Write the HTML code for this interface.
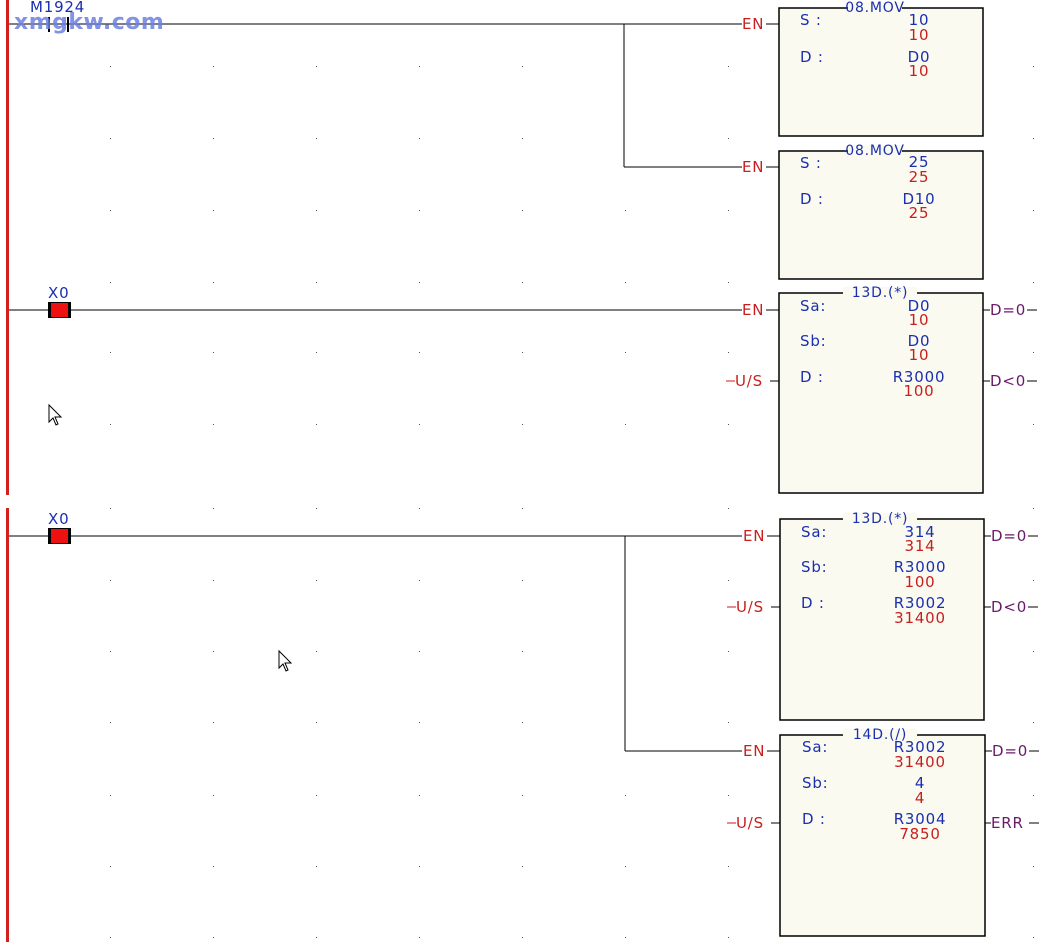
<!DOCTYPE html>
<html><head><style>
body{margin:0;background:#fff;}
svg text{font-family:"DejaVu Sans","Liberation Sans",sans-serif;font-size:15px;letter-spacing:0.8px;}
.b{fill:#1a2fb0}.r{fill:#c81e1e}.p{fill:#6a1a6a}
</style></head><body>
<svg width="1046" height="942" xmlns="http://www.w3.org/2000/svg">
<rect width="1046" height="942" fill="#fff"/>
<rect x="6" y="0" width="3" height="495" fill="#d02020"/>
<rect x="6" y="508" width="3" height="434" fill="#d02020"/>
<line x1="9" y1="24" x2="742" y2="24" stroke="#000"/>
<line x1="624" y1="24" x2="624" y2="167" stroke="#000"/>
<line x1="624" y1="167" x2="742" y2="167" stroke="#000"/>
<rect x="48" y="17" width="2" height="15" fill="#000"/><rect x="67" y="17" width="2" height="15" fill="#000"/>
<text x="30" y="12" class="b">M1924</text>
<text x="14" y="29" style="font-size:22px;font-weight:bold;fill:#6d7fe0;opacity:0.85;letter-spacing:0.5px">xmgkw.com</text>
<line x1="9" y1="310" x2="742" y2="310" stroke="#000"/>
<rect x="48" y="302" width="23" height="16" fill="#000"/><rect x="51" y="303" width="17" height="14" fill="#ee1111"/>
<text x="48" y="298" class="b">X0</text>
<line x1="9" y1="536" x2="742" y2="536" stroke="#000"/>
<line x1="625" y1="536" x2="625" y2="751" stroke="#000"/>
<line x1="625" y1="751" x2="742" y2="751" stroke="#000"/>
<rect x="48" y="528" width="23" height="16" fill="#000"/><rect x="51" y="529" width="17" height="14" fill="#ee1111"/>
<text x="48" y="524" class="b">X0</text>
<path d="M49 405 L49 422 L53 418 L56 425 L58 424 L55 417 L61 417 Z" fill="#fff" stroke="#000"/>
<path d="M279 651 L279 668 L283 664 L286 671 L288 670 L285 663 L291 663 Z" fill="#fff" stroke="#000"/>
<g stroke="#000" stroke-width="1.5" fill="#fbfaf0">
<rect x="779" y="8" width="204" height="128"/>
<rect x="779" y="151" width="204" height="128"/>
<rect x="779" y="293" width="204" height="200"/>
<rect x="780" y="519" width="204" height="201"/>
<rect x="780" y="735" width="205" height="201"/>
</g>
<g text-anchor="middle">
<rect x="848" y="2" width="54" height="10" fill="#fbfaf0"/><text x="875" y="12" class="b" style="font-size:14px">08.MOV</text>
<rect x="848" y="145" width="54" height="10" fill="#fbfaf0"/><text x="875" y="155" class="b" style="font-size:14px">08.MOV</text>
<rect x="843" y="287" width="74" height="10" fill="#fbfaf0"/><text x="880" y="297" class="b" style="font-size:14px">13D.(*)</text>
<rect x="843" y="513" width="74" height="10" fill="#fbfaf0"/><text x="880" y="523" class="b" style="font-size:14px">13D.(*)</text>
<rect x="843" y="729" width="74" height="10" fill="#fbfaf0"/><text x="880" y="739" class="b" style="font-size:14px">14D.(/)</text>
</g>
<g class="b">
<text x="800" y="25">S :</text><text x="800" y="62">D :</text>
<text x="800" y="168">S :</text><text x="800" y="204">D :</text>
<text x="800" y="311">Sa:</text><text x="800" y="346">Sb:</text><text x="800" y="382">D :</text>
<text x="801" y="537">Sa:</text><text x="801" y="572">Sb:</text><text x="801" y="608">D :</text>
<text x="802" y="752">Sa:</text><text x="802" y="788">Sb:</text><text x="802" y="824">D :</text>
</g>
<g text-anchor="middle">
<text x="919" y="25" class="b">10</text><text x="919" y="40" class="r">10</text>
<text x="919" y="62" class="b">D0</text><text x="919" y="76" class="r">10</text>
<text x="919" y="167" class="b">25</text><text x="919" y="182" class="r">25</text>
<text x="919" y="204" class="b">D10</text><text x="919" y="218" class="r">25</text>
<text x="919" y="311" class="b">D0</text><text x="919" y="325" class="r">10</text>
<text x="919" y="346" class="b">D0</text><text x="919" y="360" class="r">10</text>
<text x="919" y="382" class="b">R3000</text><text x="919" y="396" class="r">100</text>
<text x="920" y="537" class="b">314</text><text x="920" y="551" class="r">314</text>
<text x="920" y="572" class="b">R3000</text><text x="920" y="587" class="r">100</text>
<text x="920" y="608" class="b">R3002</text><text x="920" y="623" class="r">31400</text>
<text x="920" y="752" class="b">R3002</text><text x="920" y="767" class="r">31400</text>
<text x="920" y="788" class="b">4</text><text x="920" y="803" class="r">4</text>
<text x="920" y="824" class="b">R3004</text><text x="920" y="839" class="r">7850</text>
</g>
<g class="r">
<text x="742" y="29">EN</text><line x1="766" y1="24" x2="779" y2="24" stroke="#000"/>
<text x="742" y="172">EN</text><line x1="766" y1="167" x2="779" y2="167" stroke="#000"/>
<text x="742" y="315">EN</text><line x1="766" y1="310" x2="779" y2="310" stroke="#000"/>
<text x="743" y="541">EN</text><line x1="767" y1="536" x2="780" y2="536" stroke="#000"/>
<text x="743" y="756">EN</text><line x1="767" y1="751" x2="780" y2="751" stroke="#000"/>
<text x="735" y="386">U/S</text><line x1="726" y1="381" x2="735" y2="381" stroke="#c81e1e"/><line x1="770" y1="381" x2="779" y2="381" stroke="#000"/>
<text x="736" y="612">U/S</text><line x1="727" y1="607" x2="736" y2="607" stroke="#c81e1e"/><line x1="771" y1="607" x2="780" y2="607" stroke="#000"/>
<text x="736" y="828">U/S</text><line x1="727" y1="823" x2="736" y2="823" stroke="#c81e1e"/><line x1="771" y1="823" x2="780" y2="823" stroke="#000"/>
</g>
<g class="p">
<text x="990" y="315">D=0</text><line x1="983" y1="310" x2="990" y2="310" stroke="#000"/><line x1="1027" y1="310" x2="1037" y2="310" stroke="#000"/>
<text x="990" y="386">D&lt;0</text><line x1="983" y1="381" x2="990" y2="381" stroke="#000"/><line x1="1027" y1="381" x2="1037" y2="381" stroke="#000"/>
<text x="991" y="541">D=0</text><line x1="984" y1="536" x2="991" y2="536" stroke="#000"/><line x1="1028" y1="536" x2="1038" y2="536" stroke="#000"/>
<text x="991" y="612">D&lt;0</text><line x1="984" y1="607" x2="991" y2="607" stroke="#000"/><line x1="1028" y1="607" x2="1038" y2="607" stroke="#000"/>
<text x="992" y="756">D=0</text><line x1="985" y1="751" x2="992" y2="751" stroke="#000"/><line x1="1029" y1="751" x2="1039" y2="751" stroke="#000"/>
<text x="991" y="828">ERR</text><line x1="985" y1="823" x2="991" y2="823" stroke="#000"/><line x1="1029" y1="823" x2="1039" y2="823" stroke="#000"/>
</g>
<g fill="#555">
<rect x="110" y="66" width="1" height="1"/><rect x="213" y="66" width="1" height="1"/><rect x="316" y="66" width="1" height="1"/><rect x="419" y="66" width="1" height="1"/><rect x="522" y="66" width="1" height="1"/><rect x="728" y="66" width="1" height="1"/><rect x="1033" y="66" width="1" height="1"/>
<rect x="110" y="138" width="1" height="1"/><rect x="213" y="138" width="1" height="1"/><rect x="316" y="138" width="1" height="1"/><rect x="419" y="138" width="1" height="1"/><rect x="522" y="138" width="1" height="1"/><rect x="728" y="138" width="1" height="1"/><rect x="1033" y="138" width="1" height="1"/>
<rect x="110" y="210" width="1" height="1"/><rect x="213" y="210" width="1" height="1"/><rect x="316" y="210" width="1" height="1"/><rect x="419" y="210" width="1" height="1"/><rect x="522" y="210" width="1" height="1"/><rect x="625" y="210" width="1" height="1"/><rect x="728" y="210" width="1" height="1"/><rect x="1033" y="210" width="1" height="1"/>
<rect x="110" y="282" width="1" height="1"/><rect x="213" y="282" width="1" height="1"/><rect x="316" y="282" width="1" height="1"/><rect x="419" y="282" width="1" height="1"/><rect x="522" y="282" width="1" height="1"/><rect x="625" y="282" width="1" height="1"/><rect x="728" y="282" width="1" height="1"/><rect x="1033" y="282" width="1" height="1"/>
<rect x="110" y="352" width="1" height="1"/><rect x="213" y="352" width="1" height="1"/><rect x="316" y="352" width="1" height="1"/><rect x="419" y="352" width="1" height="1"/><rect x="522" y="352" width="1" height="1"/><rect x="625" y="352" width="1" height="1"/><rect x="728" y="352" width="1" height="1"/><rect x="1033" y="352" width="1" height="1"/>
<rect x="110" y="424" width="1" height="1"/><rect x="213" y="424" width="1" height="1"/><rect x="316" y="424" width="1" height="1"/><rect x="419" y="424" width="1" height="1"/><rect x="522" y="424" width="1" height="1"/><rect x="625" y="424" width="1" height="1"/><rect x="728" y="424" width="1" height="1"/><rect x="1033" y="424" width="1" height="1"/>
<rect x="110" y="508" width="1" height="1"/><rect x="213" y="508" width="1" height="1"/><rect x="316" y="508" width="1" height="1"/><rect x="419" y="508" width="1" height="1"/><rect x="522" y="508" width="1" height="1"/><rect x="728" y="508" width="1" height="1"/><rect x="1033" y="508" width="1" height="1"/>
<rect x="110" y="580" width="1" height="1"/><rect x="213" y="580" width="1" height="1"/><rect x="316" y="580" width="1" height="1"/><rect x="419" y="580" width="1" height="1"/><rect x="522" y="580" width="1" height="1"/><rect x="728" y="580" width="1" height="1"/><rect x="1033" y="580" width="1" height="1"/>
<rect x="110" y="651" width="1" height="1"/><rect x="213" y="651" width="1" height="1"/><rect x="316" y="651" width="1" height="1"/><rect x="419" y="651" width="1" height="1"/><rect x="522" y="651" width="1" height="1"/><rect x="728" y="651" width="1" height="1"/><rect x="1033" y="651" width="1" height="1"/>
<rect x="110" y="722" width="1" height="1"/><rect x="213" y="722" width="1" height="1"/><rect x="316" y="722" width="1" height="1"/><rect x="419" y="722" width="1" height="1"/><rect x="522" y="722" width="1" height="1"/><rect x="728" y="722" width="1" height="1"/><rect x="1033" y="722" width="1" height="1"/>
<rect x="110" y="795" width="1" height="1"/><rect x="213" y="795" width="1" height="1"/><rect x="316" y="795" width="1" height="1"/><rect x="419" y="795" width="1" height="1"/><rect x="522" y="795" width="1" height="1"/><rect x="625" y="795" width="1" height="1"/><rect x="728" y="795" width="1" height="1"/><rect x="1033" y="795" width="1" height="1"/>
<rect x="110" y="866" width="1" height="1"/><rect x="213" y="866" width="1" height="1"/><rect x="316" y="866" width="1" height="1"/><rect x="419" y="866" width="1" height="1"/><rect x="522" y="866" width="1" height="1"/><rect x="625" y="866" width="1" height="1"/><rect x="728" y="866" width="1" height="1"/><rect x="1033" y="866" width="1" height="1"/>
<rect x="110" y="937" width="1" height="1"/><rect x="213" y="937" width="1" height="1"/><rect x="316" y="937" width="1" height="1"/><rect x="419" y="937" width="1" height="1"/><rect x="522" y="937" width="1" height="1"/><rect x="625" y="937" width="1" height="1"/><rect x="728" y="937" width="1" height="1"/><rect x="1033" y="937" width="1" height="1"/>
</g>
</svg>
</body></html>
